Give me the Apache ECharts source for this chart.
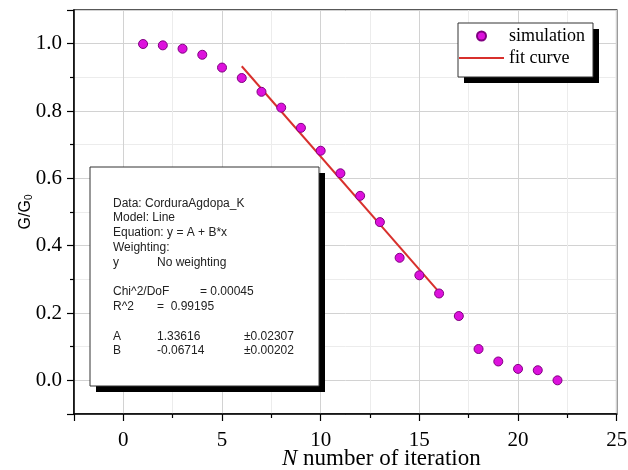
<!DOCTYPE html>
<html>
<head>
<meta charset="utf-8">
<script src="https://cdn.jsdelivr.net/npm/echarts@6/dist/echarts.min.js"></script>
<style>html,body{margin:0;padding:0;background:#fff;}#c{width:628px;height:470px;}</style>
</head>
<body>
<div id="c"></div>
<script>
// ---- data ----
const iterN = [1, 2, 3, 4, 5, 6, 7, 8, 9, 10, 11, 12, 13, 14, 15, 16, 17, 18, 19, 20, 21, 22];
const ratioG = [0.999, 0.995, 0.985, 0.967, 0.929, 0.898, 0.857, 0.810, 0.750, 0.682, 0.615, 0.548, 0.470, 0.364, 0.312, 0.258, 0.191, 0.093, 0.056, 0.034, 0.030, 0.000];
const fitN = [6, 16];
const fitG = [0.933, 0.262];
const seriesNames = ['simulation', 'fit curve'];
const fitReportLines = [
  ['Data: CorduraAgdopa_K'],
  ['Model: Line'],
  ['Equation: y = A + B*x'],
  ['Weighting:'],
  ['y', 'No weighting'],
  [],
  ['Chi^2/DoF', '= 0.00045'],
  ['R^2', '=  0.99195'],
  [],
  ['A', '1.33616', '±0.02307'],
  ['B', '-0.06714', '±0.00202']
];

const SERIF = '"Liberation Serif", "Times New Roman", serif';
const SANS = '"Liberation Sans", Arial, sans-serif';

// text box graphic
const box = {x: 90, y: 167, w: 229, h: 219};
const textEls = [];
fitReportLines.forEach((row, i) => {
  const cy = 203.3 + i * 14.77;
  row.forEach((t, j) => {
    let x = 113;
    if (j === 1) x = (row[0] === 'Chi^2/DoF') ? 200 : 157;
    if (j === 2) x = 244;
    textEls.push({
      type: 'text', x: x, y: cy, z: 101,
      style: {text: t, font: '12px ' + SANS, fill: '#222', textVerticalAlign: 'middle', textAlign: 'left'}
    });
  });
});

const chart = echarts.init(document.getElementById('c'), null, {renderer: 'canvas'});
const tickStyle = {color: '#000', width: 1.2};
chart.setOption({
  animation: false,
  backgroundColor: '#fff',
  grid: {left: 74, right: 11.3, top: 10, bottom: 56, containLabel: false, outerBoundsMode: 'none',
    show: true, borderColor: '#222', borderWidth: 1.5, backgroundColor: 'transparent'},
  legend: {
    orient: 'vertical', left: 458, top: 27, padding: 0, itemGap: 4,
    itemWidth: 45, itemHeight: 9,
    data: [{name: seriesNames[0], icon: 'circle'}, {name: seriesNames[1], itemStyle: {opacity: 0}}],
    textStyle: {fontFamily: SERIF, fontSize: 18, color: '#000', lineHeight: 18},
    z: 110
  },
  xAxis: {
    type: 'value', min: -2.5, max: 25, splitNumber: 5,
    axisLine: {show: true, onZero: false, lineStyle: {color: '#000', width: 1.5}},
    axisTick: {show: true, length: 7, lineStyle: tickStyle},
    minorTick: {show: true, splitNumber: 2, length: 4, lineStyle: tickStyle},
    splitLine: {show: true, lineStyle: {color: '#d2d2d2', width: 1}},
    minorSplitLine: {show: true, lineStyle: {color: '#ececec', width: 1}},
    axisLabel: {showMinLabel: false, showMaxLabel: true, margin: 16, fontFamily: SERIF, fontSize: 21, color: '#000'},
    name: '{i|N}{r| number of iteration}',
    nameLocation: 'middle', nameGap: 33, nameMoveOverlap: false,
    nameTextStyle: {padding: [0, 0, 0, 72], rich: {
      i: {fontFamily: SERIF, fontStyle: 'italic', fontSize: 23, color: '#000'},
      r: {fontFamily: SERIF, fontSize: 23, color: '#000'}
    }}
  },
  yAxis: {
    type: 'value', min: -0.1, max: 1.1, splitNumber: 6,
    axisLine: {show: true, onZero: false, lineStyle: {color: '#000', width: 1.5}},
    axisTick: {show: true, length: 7, lineStyle: tickStyle},
    minorTick: {show: true, splitNumber: 2, length: 4, lineStyle: tickStyle},
    splitLine: {show: true, lineStyle: {color: '#d2d2d2', width: 1}},
    minorSplitLine: {show: true, lineStyle: {color: '#ececec', width: 1}},
    axisLabel: {showMinLabel: false, showMaxLabel: false, margin: 12, fontFamily: SERIF, fontSize: 21, color: '#000',
      formatter: v => v.toFixed(1)},
    name: '{a|G/G}{b|0}',
    nameLocation: 'middle', nameRotate: 90, nameGap: 40, nameMoveOverlap: false,
    nameTextStyle: {rich: {
      a: {fontFamily: SANS, fontSize: 16, color: '#000', lineHeight: 16, verticalAlign: 'top'},
      b: {fontFamily: SANS, fontSize: 10, color: '#000', lineHeight: 10, verticalAlign: 'bottom', padding: [10, 0, 0, 0]}
    }}
  },
  series: [
    {
      name: seriesNames[0], type: 'scatter', z: 5,
      data: iterN.map((n, i) => [n, ratioG[i]]),
      symbol: 'circle', symbolSize: 9,
      itemStyle: {color: '#dd11dd', borderColor: '#800080', borderWidth: 1, opacity: 1}
    },
    {
      name: seriesNames[1], type: 'line', z: 4,
      data: fitN.map((n, i) => [n, fitG[i]]),
      symbol: 'none', showSymbol: false,
      lineStyle: {color: '#d8302c', width: 2},
      itemStyle: {color: '#d8302c'}
    }
  ],
  graphic: [
    {type: 'rect', shape: {x: 464, y: 29, width: 135, height: 54}, style: {fill: '#000'}, z: 100},
    {type: 'rect', shape: {x: 458, y: 23, width: 135, height: 54}, style: {fill: '#fff', stroke: '#333', lineWidth: 1}, z: 100},
    {type: 'rect', shape: {x: box.x + 6, y: box.y + 6, width: box.w, height: box.h}, style: {fill: '#000'}, z: 100},
    {type: 'rect', shape: {x: box.x, y: box.y, width: box.w, height: box.h}, style: {fill: '#fff', stroke: '#333', lineWidth: 1}, z: 100}
  ].concat(textEls)
});
</script>
</body>
</html>
